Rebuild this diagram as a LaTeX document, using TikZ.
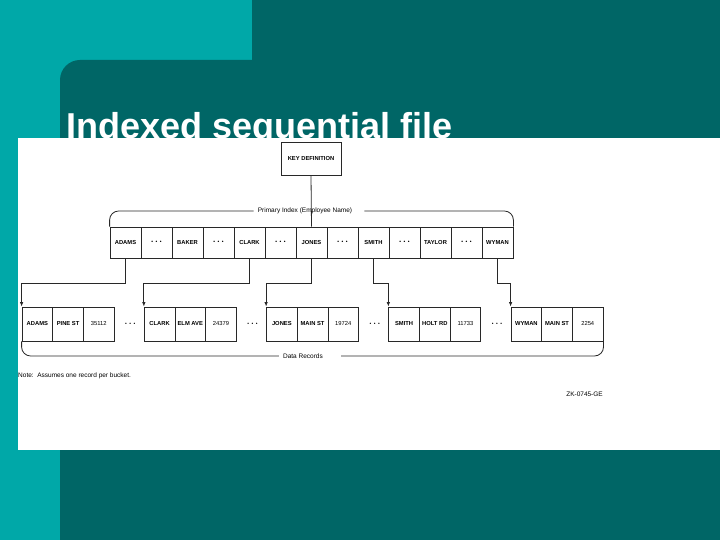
\documentclass[tikz,border=0pt]{standalone}
\usepackage{fontspec}
\setmainfont{Liberation Sans}
\usepackage{tikz}
\usetikzlibrary{arrows.meta}

\definecolor{lightteal}{RGB}{0,168,168}
\definecolor{darkteal}{RGB}{0,102,102}
\definecolor{linegray}{RGB}{40,40,40}

\newcommand{\gapdots}{{\fontsize{5}{5}\selectfont •\hspace{2.5pt}•\hspace{2.5pt}•}}

\begin{document}
\begin{tikzpicture}[x=1pt, y=-1pt,
  cell/.style={draw=linegray, line width=0.8pt, rectangle, minimum width=31pt,
    minimum height=31pt, inner sep=0pt, font=\fontsize{5.8}{6}\selectfont\bfseries},
  reccell/.style={cell, minimum width=30.7pt, minimum height=34pt},
  numcell/.style={reccell, font=\fontsize{5.8}{6}\selectfont},
  dots/.style={inner sep=0pt},
  small/.style={font=\fontsize{6.5}{7}\selectfont, inner sep=4pt},
  wire/.style={draw=linegray, line width=0.8pt}]

% slide background
\useasboundingbox (0,0) rectangle (720,540);
\fill[lightteal] (0,0) rectangle (720,540);
\fill[darkteal] (252,0) rectangle (720,60);
\fill[darkteal, rounded corners=20pt] (60,600) -- (60,60) -- (800,60) -- (800,600) -- cycle;

\node[anchor=base west, inner sep=0pt, text=white,
  font=\fontsize{36}{36}\selectfont\bfseries] (title) at (66,139) {Indexed sequential file};

\fill[white] (18,138) rectangle (720,450);

% key and primary index
\node[cell, minimum width=60pt, minimum height=33pt] (keydef) at (311,158.5) {KEY DEFINITION};

\foreach \name [count=\i] in {ADAMS,\gapdots,BAKER,\gapdots,CLARK,\gapdots,JONES,\gapdots,SMITH,\gapdots,TAYLOR,\gapdots,WYMAN}
  \node[cell] (idx\i) at ({94.5+31*\i},242.5) {\name};

\draw[wire] (keydef.south) -- (idx7.north);

\node[small] (pilabel) at (305,211) {Primary Index (Employee Name)};
\draw[wire, rounded corners=9pt] (idx1.north west) |- (pilabel.west);
\draw[wire, rounded corners=9pt] ([xshift=8pt]pilabel.east) -| (idx13.north east);

% data records
\foreach \nm/\street/\num [count=\r] in {ADAMS/PINE ST/35112,CLARK/ELM AVE/24379,JONES/MAIN ST/19724,SMITH/HOLT RD/11733,WYMAN/MAIN ST/2254} {
  \node[reccell] (rec\r a) at ({22+122.25*(\r-1)+15.35},324) {\nm};
  \node[reccell] (rec\r b) at ({22+122.25*(\r-1)+46.05},324) {\street};
  \node[numcell] (rec\r c) at ({22+122.25*(\r-1)+76.75},324) {\num};
}

\foreach \g in {1,...,4}
  \node[dots] (gap\g) at ({22+122.25*\g-14},324) {\gapdots};

\foreach \src/\dst in {1/1,5/2,7/3,9/4,13/5}
  \draw[wire, -{Latex[length=4.5pt,width=3.5pt]}] (idx\src.south) -- ++(0,25) -| (rec\dst a.north west);

\node[small] (drlabel) at (303,356) {Data Records};
\draw[wire, rounded corners=9pt] (rec1a.south west) |- (drlabel.west);
\draw[wire, rounded corners=9pt] ([xshift=14pt]drlabel.east) -| (rec5c.south east);

% notes
\node[small, anchor=west, inner sep=0pt] (note) at (18,376) {Note:\ \ Assumes one record per bucket.};
\node[small, anchor=east, inner sep=0pt] (figid) at (603,394) {ZK-0745-GE};
\end{tikzpicture}
\end{document}
